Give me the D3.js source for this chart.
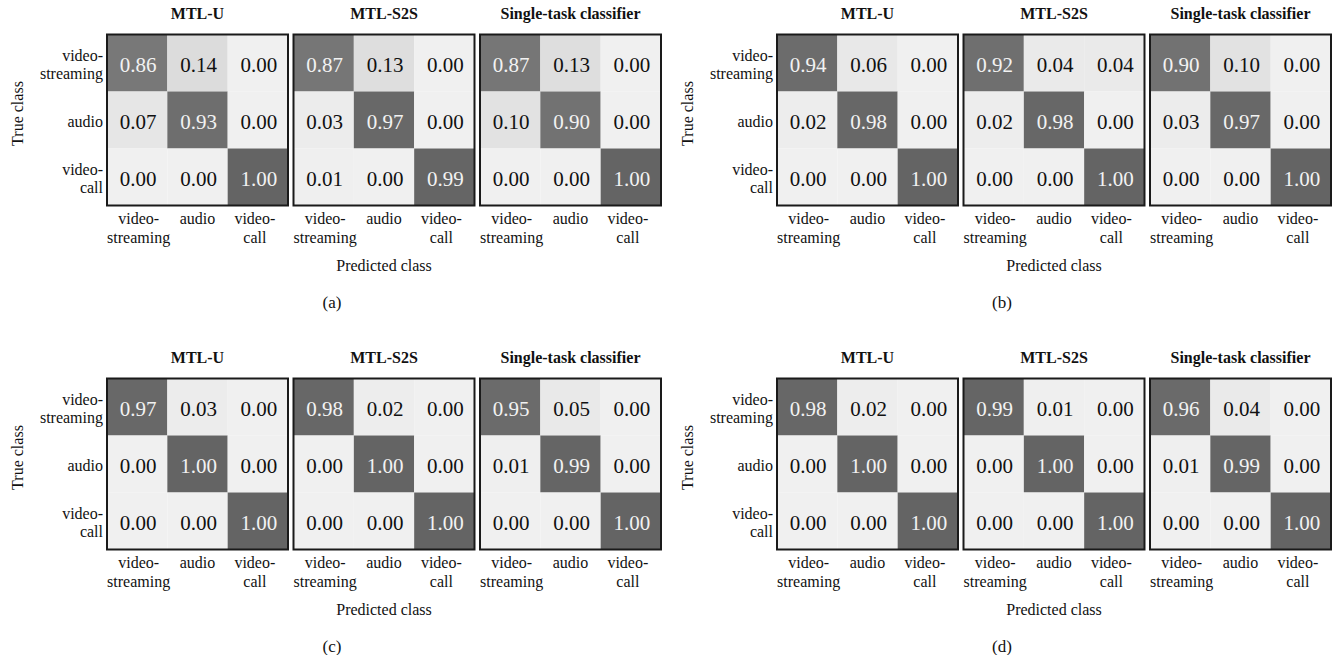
<!DOCTYPE html>
<html>
<head>
<meta charset="utf-8">
<script src="https://cdn.jsdelivr.net/npm/d3@7"></script>
<style>
  html, body { margin: 0; padding: 0; background: #fff; }
</style>
</head>
<body>
<svg id="chart" width="1340" height="655"></svg>
<script>
// Class names (tick labels) shared by all confusion matrices
const classes = ["video-streaming", "audio", "video-call"];
const classLines = [["video-", "streaming"], ["audio"], ["video-", "call"]];
const models = ["MTL-U", "MTL-S2S", "Single-task classifier"];
const panelLabels = ["(a)", "(b)", "(c)", "(d)"];

// Normalised confusion matrices, rows = true class, columns = predicted class
const panelA_mtlU   = [[0.86, 0.14, 0.00], [0.07, 0.93, 0.00], [0.00, 0.00, 1.00]];
const panelA_mtlS2S = [[0.87, 0.13, 0.00], [0.03, 0.97, 0.00], [0.01, 0.00, 0.99]];
const panelA_single = [[0.87, 0.13, 0.00], [0.10, 0.90, 0.00], [0.00, 0.00, 1.00]];

const panelB_mtlU   = [[0.94, 0.06, 0.00], [0.02, 0.98, 0.00], [0.00, 0.00, 1.00]];
const panelB_mtlS2S = [[0.92, 0.04, 0.04], [0.02, 0.98, 0.00], [0.00, 0.00, 1.00]];
const panelB_single = [[0.90, 0.10, 0.00], [0.03, 0.97, 0.00], [0.00, 0.00, 1.00]];

const panelC_mtlU   = [[0.97, 0.03, 0.00], [0.00, 1.00, 0.00], [0.00, 0.00, 1.00]];
const panelC_mtlS2S = [[0.98, 0.02, 0.00], [0.00, 1.00, 0.00], [0.00, 0.00, 1.00]];
const panelC_single = [[0.95, 0.05, 0.00], [0.01, 0.99, 0.00], [0.00, 0.00, 1.00]];

const panelD_mtlU   = [[0.98, 0.02, 0.00], [0.00, 1.00, 0.00], [0.00, 0.00, 1.00]];
const panelD_mtlS2S = [[0.99, 0.01, 0.00], [0.00, 1.00, 0.00], [0.00, 0.00, 1.00]];
const panelD_single = [[0.96, 0.04, 0.00], [0.01, 0.99, 0.00], [0.00, 0.00, 1.00]];

const panels = [
  [panelA_mtlU, panelA_mtlS2S, panelA_single],
  [panelB_mtlU, panelB_mtlS2S, panelB_single],
  [panelC_mtlU, panelC_mtlS2S, panelC_single],
  [panelD_mtlU, panelD_mtlS2S, panelD_single]
];

// ---- layout ----
const FONT = "'Liberation Serif', 'Times New Roman', Times, serif";
const panelDX = 670, panelDY = 344;
const matLeft = 107, matStep = 186.5, matW = 181;
const matTop = 34.5, matH = 171;
const xLabelShift = [1.5, 0, -3];

const grey = d3.scaleLinear().domain([0, 1]).range([240, 100]);
const cellFill = v => { const g = Math.round(grey(v)); return `rgb(${g},${g},${g})`; };

const svg = d3.select("#chart").attr("font-family", FONT);

panels.forEach((mats, p) => {
  const ox = (p % 2) * panelDX;
  const oy = Math.floor(p / 2) * panelDY;
  const g = svg.append("g").attr("transform", `translate(${ox},${oy})`);

  const yRow = d3.scaleBand().domain(classes).range([matTop, matTop + matH]);

  mats.forEach((m, k) => {
    const x0 = matLeft + k * matStep;
    const xCol = d3.scaleBand().domain(classes).range([x0, x0 + matW]);
    const mg = g.append("g");

    const cells = [];
    m.forEach((row, i) => row.forEach((v, j) => cells.push({ t: classes[i], pr: classes[j], v })));

    mg.selectAll("rect.cell").data(cells).join("rect")
      .attr("class", "cell")
      .attr("x", d => xCol(d.pr))
      .attr("y", d => yRow(d.t))
      .attr("width", xCol.bandwidth())
      .attr("height", yRow.bandwidth())
      .attr("fill", d => cellFill(d.v));

    mg.selectAll("text.val").data(cells).join("text")
      .attr("class", "val")
      .attr("x", d => xCol(d.pr) + xCol.bandwidth() / 2 + 1)
      .attr("y", d => yRow(d.t) + yRow.bandwidth() / 2 + 9)
      .attr("text-anchor", "middle")
      .attr("font-size", 21)
      .attr("fill", d => d.v > 0.5 ? "#f2f2f2" : "#111")
      .text(d => d3.format(".2f")(d.v));

    // frame
    mg.append("rect")
      .attr("x", x0).attr("y", matTop)
      .attr("width", matW).attr("height", matH)
      .attr("fill", "none").attr("stroke", "#1a1a1a").attr("stroke-width", 2);

    // title
    mg.append("text")
      .attr("x", x0 + matW / 2).attr("y", 18.5)
      .attr("text-anchor", "middle")
      .attr("font-size", 16).attr("font-weight", "bold")
      .attr("fill", "#111")
      .text(models[k]);

    // predicted-class tick labels
    classes.forEach((c, j) => {
      const cx = xCol(c) + xCol.bandwidth() / 2 + xLabelShift[j];
      const t = mg.append("text")
        .attr("text-anchor", "middle")
        .attr("font-size", 16).attr("fill", "#111");
      classLines[j].forEach((ln, li) => {
        t.append("tspan")
          .attr("x", cx)
          .attr("y", matTop + matH + 13 + li * 19)
          .attr("dominant-baseline", "central")
          .text(ln);
      });
    });

    if (k === 0) {
      // true-class tick labels
      classes.forEach((c, i) => {
        const lines = classLines[i];
        const cy = yRow(c) + yRow.bandwidth() / 2 + 1.5;
        const t = mg.append("text")
          .attr("text-anchor", "end")
          .attr("font-size", 16).attr("fill", "#111");
        lines.forEach((ln, li) => {
          t.append("tspan")
            .attr("x", x0 - 4)
            .attr("y", cy + (li - (lines.length - 1) / 2) * 18.4)
            .attr("dominant-baseline", "central")
            .text(ln);
        });
      });
      mg.append("text")
        .attr("transform", `translate(17.5,${matTop + matH / 2 - 6.5}) rotate(-90)`)
        .attr("text-anchor", "middle")
        .attr("dominant-baseline", "central")
        .attr("font-size", 16).attr("fill", "#111")
        .text("True class");
    }
    if (k === 1) {
      mg.append("text")
        .attr("x", x0 + matW / 2).attr("y", 265)
        .attr("text-anchor", "middle")
        .attr("dominant-baseline", "central")
        .attr("font-size", 16).attr("fill", "#111")
        .text("Predicted class");
    }
  });

  g.append("text")
    .attr("x", 332).attr("y", 302)
    .attr("text-anchor", "middle")
    .attr("dominant-baseline", "central")
    .attr("font-size", 17).attr("fill", "#111")
    .text(panelLabels[p]);
});
</script>
</body>
</html>
